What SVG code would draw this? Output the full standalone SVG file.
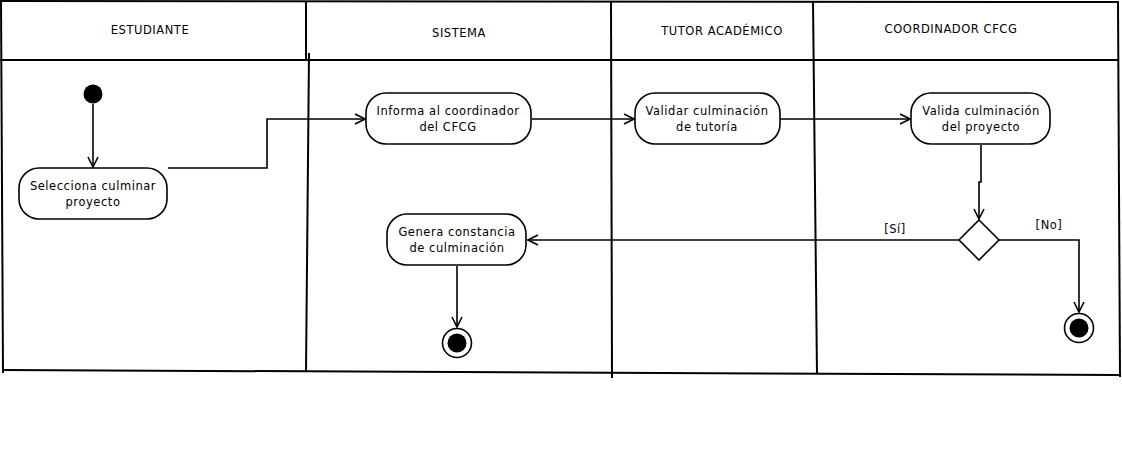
<svg xmlns="http://www.w3.org/2000/svg" width="1122" height="473" viewBox="0 0 1122 473">
<defs>
<marker id="arr" viewBox="0 0 12 12" refX="11" refY="6" markerWidth="12" markerHeight="12" markerUnits="userSpaceOnUse" orient="auto">
<path d="M1,1 L11,6 L1,11" fill="none" stroke="#000" stroke-width="1.6"/>
</marker>
<style>
text{font-family:"DejaVu Sans","Liberation Sans",sans-serif;font-size:11.5px;letter-spacing:0.55px;fill:#000;text-anchor:middle}
.lane{fill:none;stroke:#000;stroke-width:2}
.act{fill:#fff;stroke:#000;stroke-width:1.6}
.edge{fill:none;stroke:#000;stroke-width:1.6}
</style>
</defs>
<rect width="1122" height="473" fill="#fff"/>
<g id="lanes">
<line class="lane" x1="0" y1="1" x2="1118" y2="2"/>
<line class="lane" x1="0" y1="60" x2="1118" y2="60"/>
<line class="lane" x1="1" y1="1" x2="3" y2="373"/>
<line class="lane" x1="306" y1="1" x2="306" y2="60"/>
<line class="lane" x1="309" y1="53" x2="306" y2="372"/>
<line class="lane" x1="611" y1="1" x2="612" y2="378"/>
<line class="lane" x1="813" y1="1" x2="817" y2="374"/>
<line class="lane" x1="1118" y1="1" x2="1120" y2="377"/>
<line class="lane" x1="3" y1="370" x2="1119" y2="375"/>
<text x="150" y="34">ESTUDIANTE</text>
<text x="459" y="37">SISTEMA</text>
<text x="722" y="35">TUTOR ACADÉMICO</text>
<text x="951" y="33">COORDINADOR CFCG</text>
</g>
<g id="connectors">
<path class="edge" d="M93,104 L93,167" marker-end="url(#arr)"/>
<path class="edge" d="M168,168 L267,168 L267,119 L365,119" marker-end="url(#arr)"/>
<path class="edge" d="M532,119 L634,119" marker-end="url(#arr)"/>
<path class="edge" d="M780,119 L910,119" marker-end="url(#arr)"/>
<path class="edge" d="M981,145 L981,182 L979,182 L979,219" marker-end="url(#arr)"/>
<path class="edge" d="M959,240 L528,240" marker-end="url(#arr)"/>
<path class="edge" d="M999,240 L1079,240 L1079,312" marker-end="url(#arr)"/>
<path class="edge" d="M457,266 L457,327" marker-end="url(#arr)"/>
<text x="895" y="233">[Sí]</text>
<text x="1049" y="229">[No]</text>
</g>
<g id="start"><circle cx="93" cy="94" r="9.5" fill="#000"/></g>
<g id="selecciona">
<rect class="act" x="19" y="168" width="148" height="51" rx="20"/>
<text x="93" y="190">Selecciona culminar</text>
<text x="93" y="206">proyecto</text>
</g>
<g id="informa">
<rect class="act" x="366" y="93" width="165" height="51" rx="20"/>
<text x="448" y="115">Informa al coordinador</text>
<text x="448" y="131">del CFCG</text>
</g>
<g id="validar">
<rect class="act" x="635" y="93" width="145" height="51" rx="20"/>
<text x="707" y="115">Validar culminación</text>
<text x="707" y="131">de tutoría</text>
</g>
<g id="valida">
<rect class="act" x="911" y="93" width="139" height="51" rx="20"/>
<text x="981" y="115">Valida culminación</text>
<text x="981" y="131">del proyecto</text>
</g>
<g id="decision"><polygon class="act" points="979,220 999,240 979,260 959,240"/></g>
<g id="genera">
<rect class="act" x="387" y="214" width="139" height="51" rx="20"/>
<text x="457" y="236">Genera constancia</text>
<text x="457" y="252">de culminación</text>
</g>
<g id="end1"><circle cx="457" cy="343" r="14.5" fill="#fff" stroke="#000" stroke-width="1.6"/><circle cx="457" cy="343" r="9.5" fill="#000"/></g>
<g id="end2"><circle cx="1079" cy="328" r="14.5" fill="#fff" stroke="#000" stroke-width="1.6"/><circle cx="1079" cy="328" r="9.5" fill="#000"/></g>
</svg>
